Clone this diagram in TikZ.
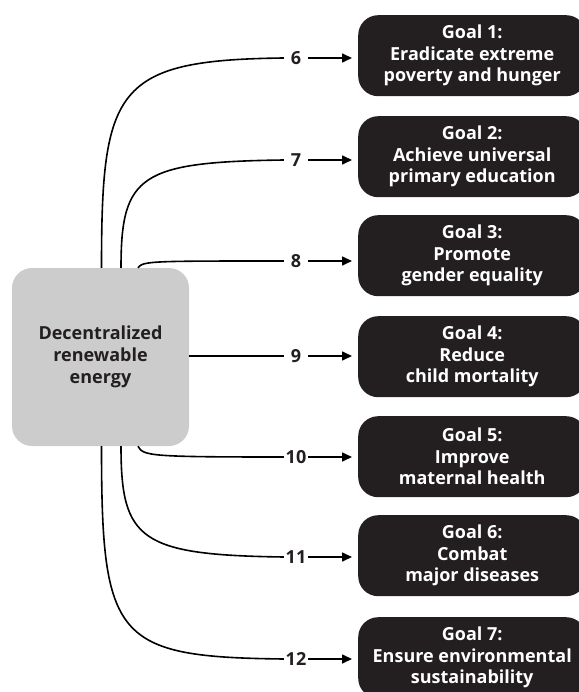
\documentclass[tikz,border=0pt]{standalone}
\usepackage{fontspec}
\setmainfont{Open Sans}
\usetikzlibrary{arrows.meta}
\definecolor{boxdark}{RGB}{35,31,32}
\definecolor{boxgray}{RGB}{204,204,204}
\begin{document}
\begin{tikzpicture}[x=1pt,y=-1pt,
  goal/.style={fill=boxdark, rounded corners=20pt, minimum width=228pt, minimum height=81pt,
    text=white, font=\bfseries\fontsize{18}{21.5}\selectfont, align=center, anchor=north west, inner sep=0pt},
  srcbox/.style={fill=boxgray, rounded corners=20pt, minimum width=177pt, minimum height=178pt,
    text=boxdark, font=\bfseries\fontsize{18}{22}\selectfont, align=center, inner sep=0pt},
  lab/.style={minimum width=24pt, inner sep=0pt, text=boxdark, font=\bfseries\fontsize{18}{20}\selectfont},
  conn/.style={line width=1.6pt, black},
  arr/.style={line width=1.6pt, black, -{Triangle[length=10pt,width=9pt]}, shorten >=6pt}
]
\useasboundingbox (0,0) rectangle (578,692);

\node[srcbox] (src) at (100.5,357) {Decentralized\\renewable\\energy};

\node[goal] (g1) at (358,15)  {Goal 1:\\Eradicate extreme\\poverty and hunger};
\node[goal] (g2) at (358,116) {Goal 2:\\Achieve universal\\primary education};
\node[goal] (g3) at (358,215) {Goal 3:\\Promote\\gender equality};
\node[goal] (g4) at (358,316) {Goal 4:\\Reduce\\child mortality};
\node[goal] (g5) at (358,416) {Goal 5:\\Improve\\maternal health};
\node[goal] (g6) at (358,515) {Goal 6:\\Combat\\major diseases};
\node[goal] (g7) at (358,617) {Goal 7:\\Ensure environmental\\sustainability};

\node[lab] (l6)  at (296,58)  {6};
\node[lab] (l7)  at (296,160) {7};
\node[lab] (l8)  at (296,261) {8};
\node[lab] (l9)  at (296,356) {9};
\node[lab] (l10) at (296,457) {10};
\node[lab] (l11) at (296,557) {11};
\node[lab] (l12) at (296,659) {12};

\coordinate (s6)  at (src.north -| 101.5,0);
\coordinate (s7)  at (src.north -| 121,0);
\coordinate (s8)  at (src.north -| 138,0);
\coordinate (s10) at (src.south -| 138,0);
\coordinate (s11) at (src.south -| 121,0);
\coordinate (s12) at (src.south -| 101.5,0);

\draw[conn] (s6) .. controls (101.5,88) and (115,60) .. (l6.west);
\draw[conn] (s7) .. controls (121,175) and (140,162) .. (l7.west);
\draw[conn] (s8) .. controls (143,261) and (150,261) .. (l8.west);
\draw[conn] (src.east |- l9.west) -- (l9.west);
\draw[conn] (s10) .. controls (143,456) and (150,457) .. (l10.west);
\draw[conn] (s11) .. controls (121,540) and (140,555) .. (l11.west);
\draw[conn] (s12) .. controls (101.5,640) and (115,657) .. (l12.west);

\draw[arr] (l6.east) -- (l6.east -| g1.west);
\draw[arr] (l7.east) -- (l7.east -| g2.west);
\draw[arr] (l8.east) -- (l8.east -| g3.west);
\draw[arr] (l9.east) -- (l9.east -| g4.west);
\draw[arr] (l10.east) -- (l10.east -| g5.west);
\draw[arr] (l11.east) -- (l11.east -| g6.west);
\draw[arr] (l12.east) -- (l12.east -| g7.west);
\end{tikzpicture}
\end{document}
